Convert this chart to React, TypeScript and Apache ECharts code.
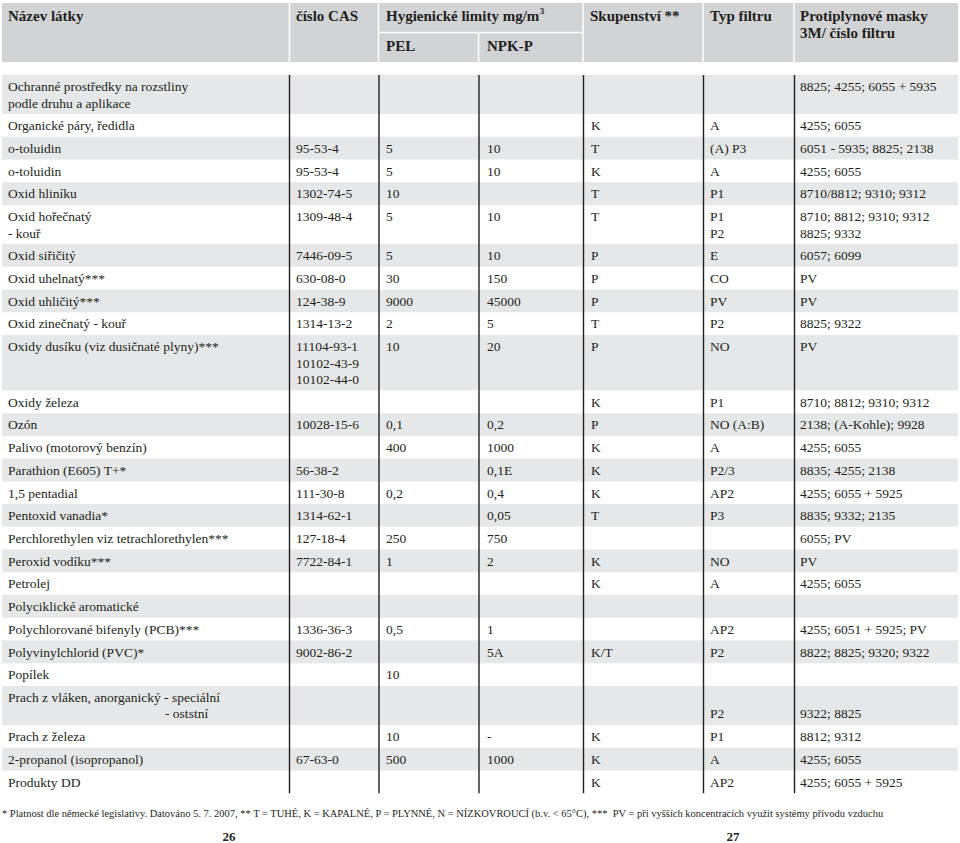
import React, { useEffect, useRef } from "react";
import * as echarts from "echarts";

// ---------- DATA ----------
const headerTop = ["Název látky", "číslo CAS", "Hygienické limity mg/m", "Skupenství **", "Typ filtru", "Protiplynové masky\n3M/ číslo filtru"];
const headerSup = "3";
const headerSub = ["PEL", "NPK-P"];

const names = [
  "Ochranné prostředky na rozstliny\npodle druhu a aplikace",
  "Organické páry, ředidla",
  "o-toluidin",
  "o-toluidin",
  "Oxid hliníku",
  "Oxid hořečnatý\n- kouř",
  "Oxid siřičitý",
  "Oxid uhelnatý***",
  "Oxid uhličitý***",
  "Oxid zinečnatý - kouř",
  "Oxidy dusíku (viz dusičnaté plyny)***",
  "Oxidy železa",
  "Ozón",
  "Palivo (motorový benzín)",
  "Parathion (E605) T+*",
  "1,5 pentadial",
  "Pentoxid vanadia*",
  "Perchlorethylen viz tetrachlorethylen***",
  "Peroxid vodíku***",
  "Petrolej",
  "Polyciklické aromatické",
  "Polychlorované bifenyly (PCB)***",
  "Polyvinylchlorid (PVC)*",
  "Popílek",
  "Prach z vláken, anorganický - speciální\n\t- oststní",
  "Prach z železa",
  "2-propanol (isopropanol)",
  "Produkty DD",
];
const casNumbers = [
  "", "", "95-53-4", "95-53-4", "1302-74-5", "1309-48-4", "7446-09-5", "630-08-0", "124-38-9", "1314-13-2",
  "11104-93-1\n10102-43-9\n10102-44-0", "", "10028-15-6", "", "56-38-2", "111-30-8", "1314-62-1", "127-18-4",
  "7722-84-1", "", "", "1336-36-3", "9002-86-2", "", "", "", "67-63-0", "",
];
const pelValues = [
  "", "", "5", "5", "10", "5", "5", "30", "9000", "2", "10", "", "0,1", "400", "", "0,2", "", "250",
  "1", "", "", "0,5", "", "10", "", "10", "500", "",
];
const npkValues = [
  "", "", "10", "10", "", "10", "10", "150", "45000", "5", "20", "", "0,2", "1000", "0,1E", "0,4", "0,05", "750",
  "2", "", "", "1", "5A", "", "", "-", "1000", "",
];
const states = [
  "", "K", "T", "K", "T", "T", "P", "P", "P", "T", "P", "K", "P", "K", "K", "K", "T", "",
  "K", "K", "", "", "K/T", "", "", "K", "K", "K",
];
const filterTypes = [
  "", "A", "(A) P3", "A", "P1", "P1\nP2", "E", "CO", "PV", "P2", "NO", "P1", "NO (A:B)", "A", "P2/3", "AP2", "P3", "",
  "NO", "A", "", "AP2", "P2", "", "\nP2", "P1", "A", "AP2",
];
const maskFilters = [
  "8825; 4255; 6055 + 5935", "4255; 6055", "6051 - 5935; 8825; 2138", "4255; 6055", "8710/8812; 9310; 9312",
  "8710; 8812; 9310; 9312\n8825; 9332", "6057; 6099", "PV", "PV", "8825; 9322", "PV", "8710; 8812; 9310; 9312",
  "2138; (A-Kohle); 9928", "4255; 6055", "8835; 4255; 2138", "4255; 6055 + 5925", "8835; 9332; 2135", "6055; PV",
  "PV", "4255; 6055", "", "4255; 6051 + 5925; PV", "8822; 8825; 9320; 9322", "", "\n9322; 8825", "8812; 9312",
  "4255; 6055", "4255; 6055 + 5925",
];
const footnote =
  "* Platnost dle německé legislativy. Datováno 5. 7. 2007, ** T = TUHÉ, K = KAPALNÉ, P = PLYNNÉ, N = NÍZKOVROUCÍ (b.v. < 65°C), ***  PV = při vyšších koncentracích využit systémy přívodu vzduchu";
const pageNumbers = ["26", "27"];

// ---------- LAYOUT ----------
const FONT = "Liberation Serif";
const INK = "#231f20";
const HEADER_BG = "#d2d3d5";
const ROW_BG = "#e6e7e8";
const LEFT = 2;
const RIGHT = 958;
const colX = [8, 296, 386, 487, 591, 710, 800];
const vLines = [289.5, 379, 479, 583.5, 703.5, 794.5];
const BODY_TOP = 75;
const ROW_H = 22.72;
const LINE_H = 16.4;
const INDENT = 157;
const BODY_SIZE = 13.5;
const HDR_SIZE = 15;

function measure(text: string, font: string): number {
  const c = document.createElement("canvas").getContext("2d");
  if (!c) return text.length * 6;
  c.font = font;
  return c.measureText(text).width;
}

function buildGraphics() {
  const els: any[] = [];
  els.push({ type: "rect", shape: { x: LEFT, y: 3, width: RIGHT - LEFT, height: 59 }, style: { fill: HEADER_BG }, silent: true });
  const hv = [289.5, 378.5, 583, 703, 794];
  hv.forEach((x) =>
    els.push({ type: "line", shape: { x1: x, y1: 3, x2: x, y2: 62 }, style: { stroke: "#ffffff", lineWidth: 1.5 }, silent: true })
  );
  els.push({ type: "line", shape: { x1: 379, y1: 32.5, x2: 583, y2: 32.5 }, style: { stroke: "#ffffff", lineWidth: 1.5 }, silent: true });
  els.push({ type: "line", shape: { x1: 478.5, y1: 32.5, x2: 478.5, y2: 62 }, style: { stroke: "#ffffff", lineWidth: 1.5 }, silent: true });

  const hdrFont = { fontFamily: FONT, fontSize: HDR_SIZE, fontWeight: "bold", fill: INK };
  const hdrCols = [colX[0], colX[1], colX[2], 590, colX[5], colX[6]];
  headerTop.forEach((t, i) => {
    t.split("\n").forEach((ln, k) => {
      els.push({ type: "text", x: hdrCols[i], y: 16 + k * 17, style: { ...hdrFont, text: ln, textVerticalAlign: "middle" }, silent: true });
    });
  });
  const supX = colX[2] + measure(headerTop[2], `bold ${HDR_SIZE}px ${FONT}`);
  els.push({ type: "text", x: supX + 0.5, y: 11, style: { ...hdrFont, fontSize: 9, text: headerSup, textVerticalAlign: "middle" }, silent: true });
  headerSub.forEach((t, i) => {
    els.push({ type: "text", x: colX[2 + i], y: 46, style: { ...hdrFont, text: t, textVerticalAlign: "middle" }, silent: true });
  });

  const cols = [names, casNumbers, pelValues, npkValues, states, filterTypes, maskFilters];
  let y = BODY_TOP;
  for (let r = 0; r < names.length; r++) {
    const nLines = Math.max(...cols.map((c) => (c[r] ? c[r].split("\n").length : 1)));
    const h = ROW_H + (nLines - 1) * LINE_H;
    if (r % 2 === 0) {
      els.push({ type: "rect", shape: { x: LEFT, y, width: RIGHT - LEFT, height: h }, style: { fill: ROW_BG }, silent: true });
    }
    cols.forEach((col, ci) => {
      const v = col[r];
      if (!v) return;
      v.split("\n").forEach((ln, k) => {
        if (!ln) return;
        let x = colX[ci];
        let txt = ln;
        if (ln.startsWith("\t")) {
          x += INDENT;
          txt = ln.slice(1);
        }
        els.push({
          type: "text",
          x,
          y: y + 11.6 + k * LINE_H,
          style: { text: txt, fontFamily: FONT, fontSize: BODY_SIZE, fill: INK, textVerticalAlign: "middle" },
          silent: true,
        });
      });
    });
    y += h;
  }
  const bodyBottom = y;
  vLines.forEach((x) =>
    els.push({ type: "line", shape: { x1: x, y1: BODY_TOP, x2: x, y2: bodyBottom }, style: { stroke: INK, lineWidth: 1.4 }, silent: true })
  );

  const fnSize = 11;
  const fnW = measure(footnote, `${fnSize}px ${FONT}`);
  els.push({
    type: "text",
    x: 2,
    y: 813,
    scaleX: 884 / fnW,
    style: { text: footnote, fontFamily: FONT, fontSize: fnSize, fill: INK, textVerticalAlign: "middle" },
    silent: true,
  });
  const pageX = [229, 733];
  pageNumbers.forEach((p, i) =>
    els.push({
      type: "text",
      x: pageX[i],
      y: 836,
      style: { text: p, fontFamily: FONT, fontSize: 13, fontWeight: "bold", fill: INK, textAlign: "center", textVerticalAlign: "middle" },
      silent: true,
    })
  );
  return els;
}

export default function App() {
  const ref = useRef<HTMLDivElement>(null);
  useEffect(() => {
    document.body.style.margin = "0";
    if (!ref.current) return;
    const chart = echarts.init(ref.current, null, { renderer: "svg" });
    chart.setOption({
      animation: false,
      backgroundColor: "#ffffff",
      graphic: { elements: buildGraphics() },
    });
    return () => chart.dispose();
  }, []);
  return <div ref={ref} style={{ width: 960, height: 843, position: "absolute", left: 0, top: 0 }} />;
}
